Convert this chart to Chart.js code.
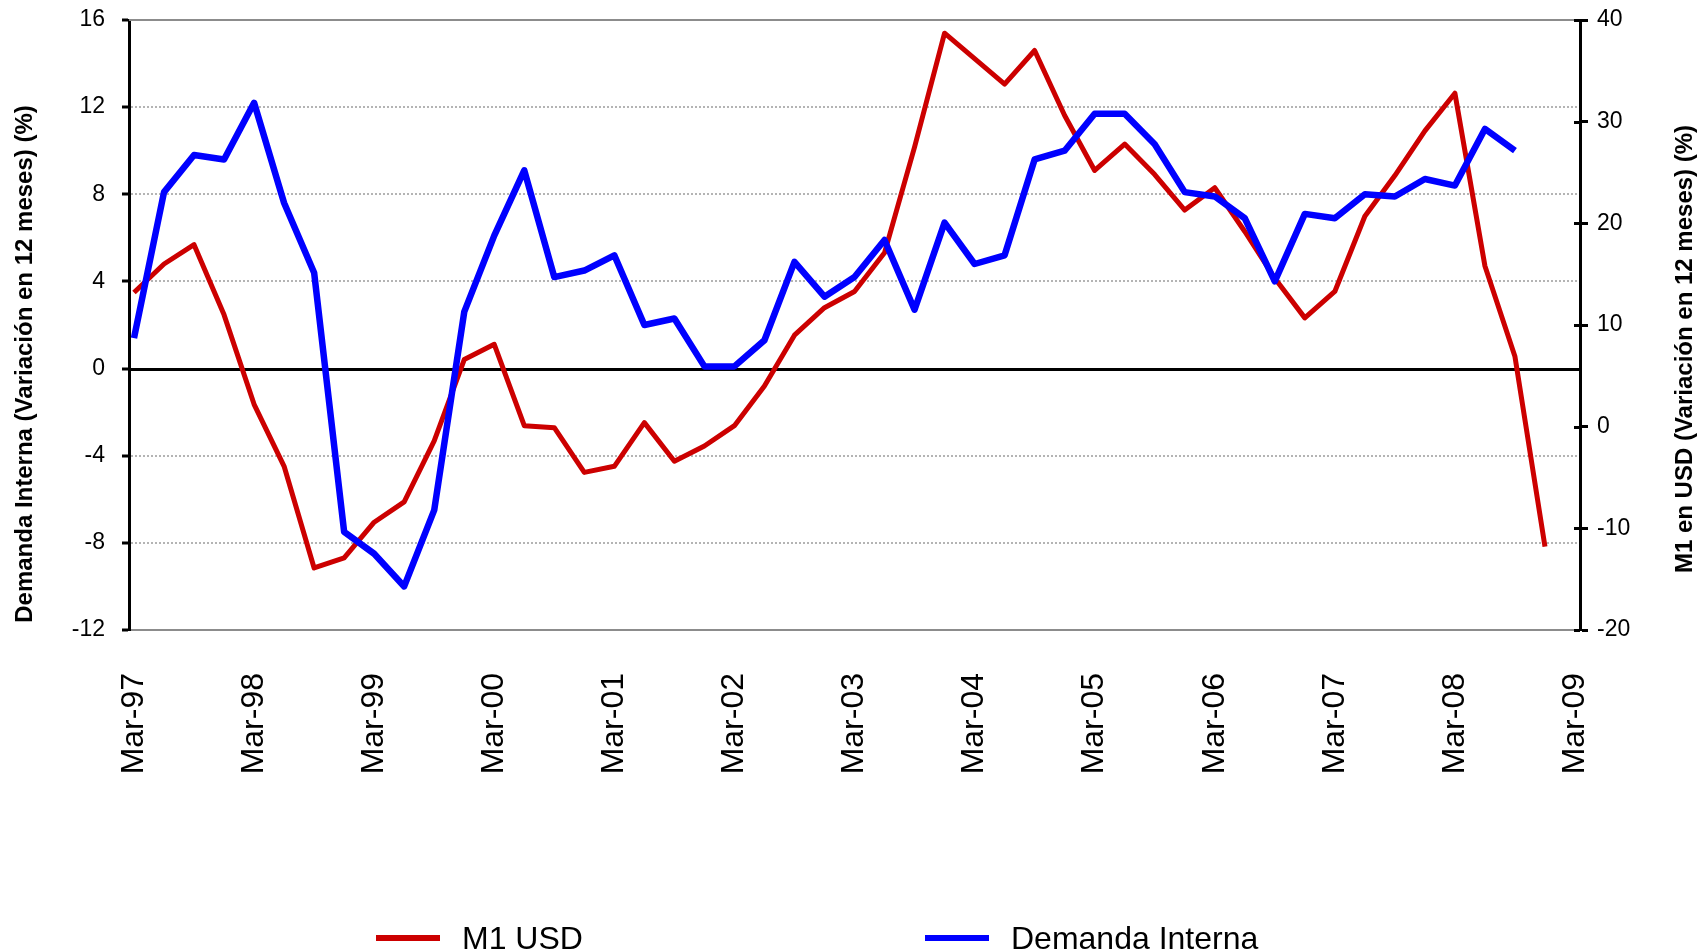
<!DOCTYPE html>
<html lang="es">
<head>
<meta charset="utf-8">
<title>M1 USD y Demanda Interna</title>
<script src="https://cdn.jsdelivr.net/npm/chart.js@4.4.1/dist/chart.umd.min.js"></script>
<style>
    html, body { margin: 0; padding: 0; background: #fff; }
    #contenedor { position: relative; width: 1701px; height: 952px; }
    #grafico { position: absolute; left: 0; top: 0; }
    .leyenda-item {
        position: absolute; top: 918px; height: 40px;
        display: flex; align-items: center; white-space: nowrap;
        font: 32px "Liberation Sans", Arial, sans-serif; color: #000;
    }
    .leyenda-linea { width: 64px; height: 6px; margin-right: 22px; }
</style>
</head>
<body>
<div id="contenedor">
    <canvas id="grafico" width="1701" height="952"></canvas>
    <div id="leyenda"></div>
</div>
<script>
// Trimestres de la serie (marzo 1997 - marzo 2009)
const trimestres = [
    'Mar-97', 'Jun-97', 'Sep-97', 'Dic-97', 'Mar-98', 'Jun-98', 'Sep-98', 'Dic-98',
    'Mar-99', 'Jun-99', 'Sep-99', 'Dic-99', 'Mar-00', 'Jun-00', 'Sep-00', 'Dic-00',
    'Mar-01', 'Jun-01', 'Sep-01', 'Dic-01', 'Mar-02', 'Jun-02', 'Sep-02', 'Dic-02',
    'Mar-03', 'Jun-03', 'Sep-03', 'Dic-03', 'Mar-04', 'Jun-04', 'Sep-04', 'Dic-04',
    'Mar-05', 'Jun-05', 'Sep-05', 'Dic-05', 'Mar-06', 'Jun-06', 'Sep-06', 'Dic-06',
    'Mar-07', 'Jun-07', 'Sep-07', 'Dic-07', 'Mar-08', 'Jun-08', 'Sep-08', 'Dic-08',
    'Mar-09'
];

// Etiquetas visibles del eje horizontal
const etiquetasEje = [
    'Mar-97', 'Mar-98', 'Mar-99', 'Mar-00', 'Mar-01', 'Mar-02', 'Mar-03',
    'Mar-04', 'Mar-05', 'Mar-06', 'Mar-07', 'Mar-08', 'Mar-09'
];

// M1 en USD, variación en 12 meses (%) - eje derecho
const m1Usd = [
    13.2, 16.0, 17.9, 11.0, 2.2, -3.9, -13.9, -12.9,
    -9.4, -7.4, -1.4, 6.6, 8.1, 0.1, -0.1, -4.5,
    -3.9, 0.4, -3.4, -1.9, 0.1, 4.0, 9.0, 11.7,
    13.3, 17.1, 27.5, 38.7, 36.2, 33.7, 37.0, 30.6,
    25.2, 27.8, 24.8, 21.3, 23.5, 19.2, 14.6, 10.7,
    13.3, 20.7, 24.7, 29.1, 32.8, 15.8, 6.9, -11.8
];

// Demanda interna, variación en 12 meses (%) - eje izquierdo
const demandaInterna = [
    1.4, 8.1, 9.8, 9.6, 12.2, 7.6, 4.4, -7.5,
    -8.5, -10.0, -6.5, 2.6, 6.1, 9.1, 4.2, 4.5,
    5.2, 2.0, 2.3, 0.1, 0.1, 1.3, 4.9, 3.3,
    4.2, 5.9, 2.7, 6.7, 4.8, 5.2, 9.6, 10.0,
    11.7, 11.7, 10.3, 8.1, 7.9, 6.9, 4.0, 7.1,
    6.9, 8.0, 7.9, 8.7, 8.4, 11.0, 10.0
];

const tituloIzq = 'Demanda Interna (Variación en 12 meses) (%)';
const tituloDer = 'M1 en USD (Variación en 12 meses) (%)';

const fuente = '"Liberation Sans", Arial, sans-serif';
Chart.defaults.font.family = fuente;
Chart.defaults.color = '#000';

const aPuntos = serie => serie.map((v, i) => ({ x: i, y: v }));
const indicesEje = etiquetasEje.map(e => trimestres.indexOf(e));

// Línea del cero, borde superior y la parte interior de las marcas del eje derecho
const lineasReferencia = {
    id: 'lineasReferencia',
    beforeDatasetsDraw(chart) {
        const { ctx, chartArea: { left, right, top }, scales: { y, y1 } } = chart;
        const linea = (x1, y1p, x2, y2p) => {
            ctx.beginPath();
            ctx.moveTo(x1, y1p);
            ctx.lineTo(x2, y2p);
            ctx.stroke();
        };
        ctx.save();
        ctx.strokeStyle = '#8c8c8c';
        ctx.lineWidth = 2;
        linea(left, top, right, top);

        ctx.strokeStyle = '#000';
        ctx.lineWidth = 3;
        const cero = Math.round(y.getPixelForValue(0)) + 0.5;
        linea(left, cero, right, cero);

        y1.ticks.forEach(t => {
            const py = Math.round(y1.getPixelForValue(t.value)) + 0.5;
            linea(right - 6, py, right, py);
        });
        ctx.restore();
    }
};

// Títulos de los ejes verticales, ambos leídos de abajo hacia arriba
const titulosEjes = {
    id: 'titulosEjes',
    afterDraw(chart) {
        const { ctx } = chart;
        const escribir = (texto, x, y) => {
            ctx.save();
            ctx.translate(x, y);
            ctx.rotate(-Math.PI / 2);
            ctx.font = 'bold 24px ' + fuente;
            ctx.fillStyle = '#000';
            ctx.textAlign = 'center';
            ctx.textBaseline = 'middle';
            ctx.fillText(texto, 0, 0);
            ctx.restore();
        };
        escribir(tituloIzq, 25, 364);
        escribir(tituloDer, 1685, 349);
    }
};

const sinGrilla = v => v === 0 || v === 16 || v === -12;

// ancho fijo para los ejes verticales, sin reservar margen extra arriba/abajo
const anchoFijo = ancho => escala => {
    escala.width = ancho;
    escala.paddingTop = 0;
    escala.paddingBottom = 0;
};

const chart = new Chart(document.getElementById('grafico'), {
    type: 'line',
    data: {
        datasets: [{
            label: 'M1 USD',
            data: aPuntos(m1Usd),
            yAxisID: 'y1',
            borderColor: '#cc0000',
            backgroundColor: '#cc0000',
            borderWidth: 5,
            order: 2
        }, {
            label: 'Demanda Interna',
            data: aPuntos(demandaInterna),
            yAxisID: 'y',
            borderColor: '#0000ff',
            backgroundColor: '#0000ff',
            borderWidth: 6.5,
            order: 1
        }]
    },
    options: {
        responsive: false,
        animation: false,
        layout: { padding: { top: 20, left: 0, right: 0, bottom: 0 } },
        elements: {
            point: { radius: 0, hoverRadius: 0 },
            line: { tension: 0, borderJoinStyle: 'round', borderCapStyle: 'butt' }
        },
        plugins: {
            legend: { display: false },
            tooltip: { enabled: false }
        },
        scales: {
            x: {
                type: 'linear',
                min: -1 / 6,
                max: trimestres.length - 1 + 1 / 6,
                afterBuildTicks: escala => {
                    escala.ticks = indicesEje.map(v => ({ value: v }));
                },
                ticks: {
                    autoSkip: false,
                    minRotation: 90,
                    maxRotation: 90,
                    padding: 43,
                    font: { size: 32 },
                    callback: v => trimestres[v]
                },
                grid: { display: false, drawTicks: false },
                border: { color: '#8c8c8c', width: 2 },
                afterFit: escala => { escala.height = 322; }
            },
            y: {
                type: 'linear',
                position: 'left',
                min: -12,
                max: 16,
                ticks: { stepSize: 4, padding: 17, font: { size: 23 } },
                grid: {
                    color: c => sinGrilla(c.tick.value) ? 'rgba(0,0,0,0)' : '#b4b4b4',
                    lineWidth: 2,
                    tickColor: '#000',
                    tickWidth: 3,
                    tickLength: 7
                },
                border: { color: '#000', width: 3, dash: [2, 2] },
                afterFit: anchoFijo(129)
            },
            y1: {
                type: 'linear',
                position: 'right',
                min: -20,
                max: 40,
                ticks: { stepSize: 10, padding: 9, font: { size: 23 } },
                grid: {
                    drawOnChartArea: false,
                    tickColor: '#000',
                    tickWidth: 3,
                    tickLength: 8
                },
                border: { color: '#000', width: 3 },
                afterFit: anchoFijo(121)
            }
        }
    },
    plugins: [lineasReferencia, titulosEjes]
});

// Leyenda inferior armada a partir de las series del gráfico
const posicionesLeyenda = [376, 925];
const leyenda = document.getElementById('leyenda');
chart.data.datasets.forEach((ds, i) => {
    const item = document.createElement('div');
    item.className = 'leyenda-item';
    item.style.left = posicionesLeyenda[i] + 'px';
    const muestra = document.createElement('span');
    muestra.className = 'leyenda-linea';
    muestra.style.background = ds.borderColor;
    const texto = document.createElement('span');
    texto.textContent = ds.label;
    item.appendChild(muestra);
    item.appendChild(texto);
    leyenda.appendChild(item);
});
</script>
</body>
</html>
